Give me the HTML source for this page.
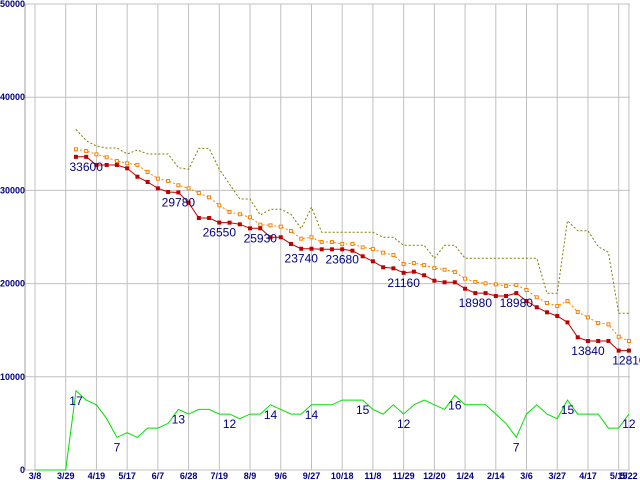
<!DOCTYPE html>
<html><head><meta charset="utf-8"><style>
html,body{margin:0;padding:0;background:#fff;}
svg{display:block;}
</style></head><body>
<svg id="chart" width="640" height="480" xmlns="http://www.w3.org/2000/svg"></svg>
<script>
const xLabels=["3/8","3/29","4/19","5/17","6/7","6/28","7/19","8/9","9/6","9/27","10/18","11/8","11/29","12/20","1/24","2/14","3/6","3/27","4/17","5/15","5/22"];
const xLabelIdx=[0,3,6,9,12,15,18,21,24,27,30,33,36,39,42,45,48,51,54,57,58];
const yTicks=[0,10000,20000,30000,40000,50000];
const red=[null,null,null,null,33600,33600,32730,32730,32730,32370,31470,30900,30220,29830,29780,28680,27040,27040,26550,26540,26360,25930,25930,24970,24970,24250,23740,23740,23680,23680,23680,23530,22930,22390,21750,21640,21160,21280,20890,20310,20140,20140,19450,18980,18980,18670,18670,18980,18130,17460,16920,16520,15840,14240,13840,13840,13840,12810,12810];
const orange=[null,null,null,null,34410,34230,33870,33550,33150,32910,32730,31970,31260,31010,30550,30220,29720,29260,28400,27680,27440,27110,26320,26250,26110,25640,24820,24970,24460,24460,24250,24250,23890,23710,23320,23070,22100,22210,21990,21670,21490,21240,20530,20170,20030,19920,19740,19850,19310,18530,17920,17600,18130,16950,16380,15770,15630,14300,13840];
const olive=[null,null,null,null,36550,35330,34760,34550,34550,33910,34330,33910,33910,33910,32440,32260,34510,34510,32260,30650,29080,29080,27360,27970,27970,27440,25890,28190,25500,25500,25500,25500,25500,25500,24970,24970,24110,24110,24110,22710,24110,24110,22710,22710,22710,22710,22710,22710,22710,22710,18960,18960,26750,25680,25680,23960,23360,16810,16810];
const green=[0,0,0,0,17,15,14,11,7,8,7,9,9,10,13,12,13,13,12,12,11,12,12,14,13,12,12,14,14,14,15,15,15,13,12,14,12,14,15,14,13,16,14,14,14,12,10,7,12,14,12,11,15,12,12,12,9,9,12];
const redLabelIdx=[5,14,18,22,26,30,36,43,47,54,58];
const greenLabelIdx=[4,8,14,19,23,27,32,36,41,47,52,58];
const GREEN_UNIT=500;

const svg=document.getElementById('chart');
const NS='http://www.w3.org/2000/svg';
const X0=35,DX=10.24,Y0=470,YS=466/50000,LEFT=25,RIGHT=630,TOP=4;
function xs(i){return X0+i*DX;}
function ys(v){return Y0-v*YS;}
function mk(tag,attrs,parent){const e=document.createElementNS(NS,tag);for(const k in attrs)e.setAttribute(k,attrs[k]);(parent||svg).appendChild(e);return e;}

const grid=mk('g',{});


yTicks.forEach(t=>{
  const l=mk('line',{x1:LEFT,x2:RIGHT,y1:ys(t),y2:ys(t),stroke:'#c0c0c0','stroke-width':1},grid);
  
  
  const tx=mk('text',{x:LEFT,y:ys(t)+3,'text-anchor':'end','font-size':'9','font-weight':'bold','font-family':'Liberation Sans, sans-serif',fill:'#000080'});
  tx.textContent=t;
  
  
});
xLabelIdx.forEach((idx,k)=>{
  const l=mk('line',{x1:xs(idx),x2:xs(idx),y1:TOP,y2:Y0,stroke:'#c0c0c0','stroke-width':1},grid);
  
  
  const tx=mk('text',{x:xs(idx),y:479,'text-anchor':'middle','font-size':'9','font-weight':'bold','font-family':'Liberation Sans, sans-serif',fill:'#000080'});
  tx.textContent=xLabels[k];
  
  
});
const ax=mk('line',{x1:LEFT,x2:LEFT,y1:TOP,y2:Y0,stroke:'#a0a0a0'});



function pathFor(arr,scale){let d='';let pen=false;arr.forEach((v,i)=>{if(v==null){pen=false;return;}d+=(pen?'L':'M')+xs(i).toFixed(1)+' '+ys(v*scale).toFixed(1)+' ';pen=true;});return d;}

const ol=mk('path',{d:pathFor(olive,1),fill:'none',stroke:'#808000','stroke-width':1,'stroke-dasharray':'2 2'});



const or=mk('path',{d:pathFor(orange,1),fill:'none',stroke:'#ff8000','stroke-width':1,'stroke-dasharray':'2 2'});


orange.forEach((v,i)=>{if(v==null)return;
  const r=mk('rect',{x:xs(i)-1.5,y:ys(v)-1.5,width:3,height:3,fill:'#fff',stroke:'#ff8000','stroke-width':1});
  
  
});

const rd=mk('path',{d:pathFor(red,1),fill:'none',stroke:'#c00000','stroke-width':1});


red.forEach((v,i)=>{if(v==null)return;
  const r=mk('rect',{x:xs(i)-2,y:ys(v)-2,width:4,height:4,fill:'#c00000'});
  
  
});

const gr=mk('path',{d:pathFor(green,GREEN_UNIT),fill:'none',stroke:'#00e000','stroke-width':1});



redLabelIdx.forEach(i=>{
  const t=mk('text',{x:xs(i),y:ys(red[i])+14,'text-anchor':'middle','font-size':'12','font-family':'Liberation Sans, sans-serif',fill:'#000080'});
  t.textContent=red[i];
  
  
});
greenLabelIdx.forEach(i=>{
  const t=mk('text',{x:xs(i),y:ys(green[i]*GREEN_UNIT)+14,'text-anchor':'middle','font-size':'12','font-family':'Liberation Sans, sans-serif',fill:'#000080'});
  t.textContent=green[i];
  
  
});
</script>
</body></html>
